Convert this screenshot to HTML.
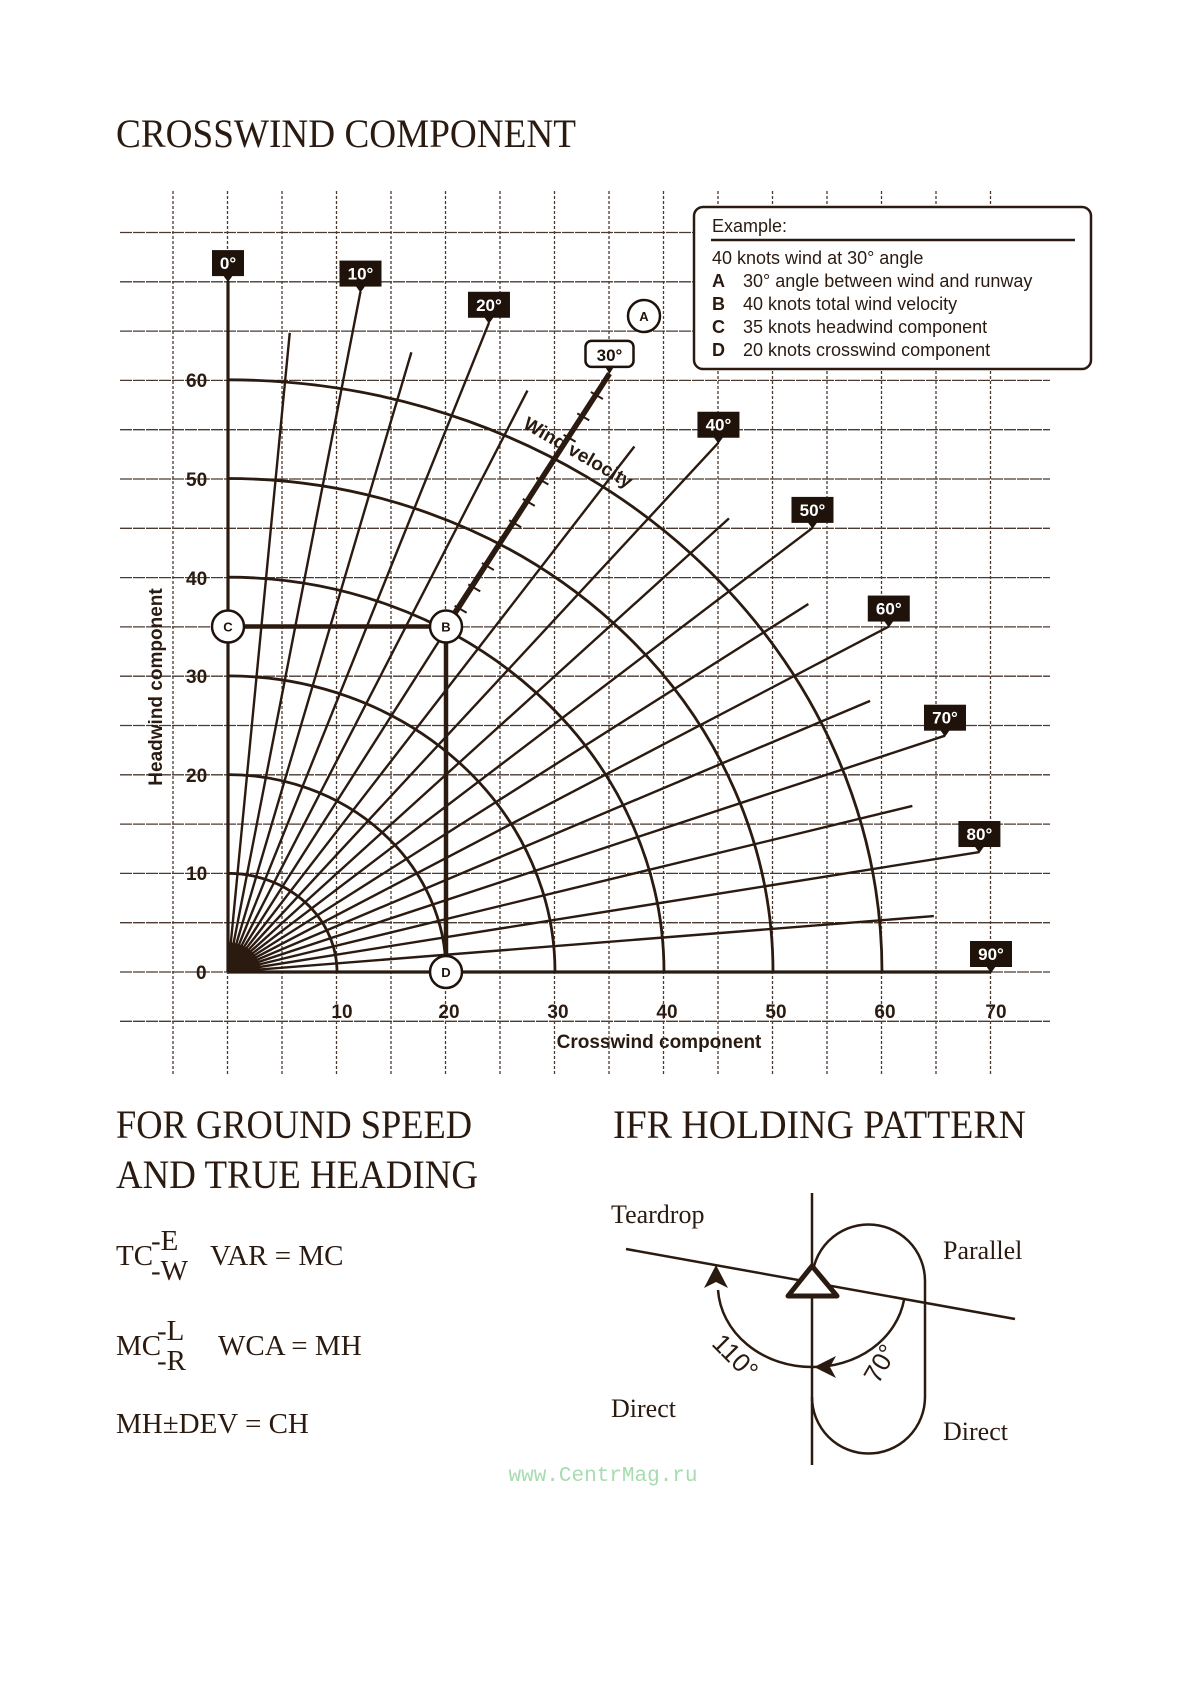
<!DOCTYPE html>
<html><head><meta charset="utf-8"><style>
html,body{margin:0;padding:0;background:#fff;}
svg{display:block;}
.serif{font-family:"Liberation Serif",serif;fill:#2a1a10;}
.sans{font-family:"Liberation Sans",sans-serif;fill:#2a1a10;}
</style></head><body>
<svg id="s" width="1200" height="1700" viewBox="0 0 1200 1700" xmlns="http://www.w3.org/2000/svg">
<rect width="1200" height="1700" fill="#fff"/>
<g id="grid" stroke="#4a3a30" stroke-width="1.3"></g>
<g id="chart" stroke="#2a1a10" fill="none"></g>
<g id="labels"></g>

<text class="serif" x="116" y="147" font-size="40" textLength="460" lengthAdjust="spacingAndGlyphs">CROSSWIND COMPONENT</text>

<rect x="694" y="207" width="397" height="162" rx="9" fill="#fff" stroke="#2a1a10" stroke-width="2.5"/>
<line x1="711" y1="240" x2="1075" y2="240" stroke="#2a1a10" stroke-width="2.5"/>
<g class="sans" font-size="18">
<text x="712" y="232">Example:</text>
<text x="712" y="264">40 knots wind at 30° angle</text>
<text x="712" y="287"><tspan font-weight="bold">A</tspan><tspan x="743">30° angle between wind and runway</tspan></text>
<text x="712" y="310"><tspan font-weight="bold">B</tspan><tspan x="743">40 knots total wind velocity</tspan></text>
<text x="712" y="333"><tspan font-weight="bold">C</tspan><tspan x="743">35 knots headwind component</tspan></text>
<text x="712" y="356"><tspan font-weight="bold">D</tspan><tspan x="743">20 knots crosswind component</tspan></text>
</g>

<g class="sans" font-size="19" font-weight="bold">
<text x="196" y="979">0</text>
<text x="186" y="880">10</text>
<text x="186" y="782">20</text>
<text x="186" y="683">30</text>
<text x="186" y="585">40</text>
<text x="186" y="486">50</text>
<text x="186" y="387">60</text>
<g text-anchor="middle">
<text x="342" y="1018">10</text>
<text x="449" y="1018">20</text>
<text x="558" y="1018">30</text>
<text x="667" y="1018">40</text>
<text x="776" y="1018">50</text>
<text x="885" y="1018">60</text>
<text x="996" y="1018">70</text>
</g>
<text x="659" y="1048" text-anchor="middle">Crosswind component</text>
<text transform="translate(162,687) rotate(-90)" text-anchor="middle">Headwind component</text>
<text transform="translate(575,458) rotate(30)" text-anchor="middle">Wind velocity</text>
</g>

<g class="serif">
<text x="116" y="1138" font-size="40" textLength="356" lengthAdjust="spacingAndGlyphs">FOR GROUND SPEED</text>
<text x="116" y="1188" font-size="40" textLength="362" lengthAdjust="spacingAndGlyphs">AND TRUE HEADING</text>
<text x="613" y="1138" font-size="40" textLength="413" lengthAdjust="spacingAndGlyphs">IFR HOLDING PATTERN</text>
<g font-size="29">
<text x="116" y="1265">TC</text><text x="151" y="1250">-E</text><text x="151" y="1280">-W</text>
<text x="210" y="1265">VAR = MC</text>
<text x="116" y="1355">MC</text><text x="157" y="1340">-L</text><text x="157" y="1370">-R</text>
<text x="218" y="1355">WCA = MH</text>
<text x="116" y="1433">MH±DEV = CH</text>
</g>
<g font-size="26">
<text x="611" y="1223">Teardrop</text>
<text x="943" y="1259">Parallel</text>
<text x="611" y="1417">Direct</text>
<text x="943" y="1440">Direct</text>
<text transform="translate(729,1363) rotate(45)" text-anchor="middle" font-family="Liberation Sans,sans-serif">110°</text>
<text transform="translate(888,1368) rotate(-60)" text-anchor="middle" font-family="Liberation Sans,sans-serif">70°</text>
</g>
</g>
<text x="603" y="1481" text-anchor="middle" font-family="Liberation Mono,monospace" font-size="21" fill="#a6dcb0">www.CentrMag.ru</text>

<g stroke="#2a1a10" fill="none" stroke-width="2.5">
<line x1="812" y1="1193" x2="812" y2="1465"/>
<path d="M812 1281 A56.5 56.5 0 0 1 925 1281 L925 1397 A56.5 56.5 0 0 1 812 1397"/>
<line x1="626" y1="1249" x2="1015" y2="1319"/>
<path d="M718 1290 A94 82 0 0 0 812 1367 A92 80 0 0 0 904 1300"/>
<path d="M812 1266 L837 1296 L788 1296 Z" fill="#fff" stroke-width="5" stroke-linejoin="round"/>
</g>
<path d="M716 1265 L704 1288 L716 1282 L728 1288 Z" fill="#2a1a10"/>
<path d="M814 1367 L836 1356 L830 1367 L836 1378 Z" fill="#2a1a10"/>
</svg>
<script>
(function(){
var NS="http://www.w3.org/2000/svg";
var ox=228,oy=972,ux=10.9,uy=9.87;
function X(k){return ox+ux*k;} function Y(k){return oy-uy*k;}
function el(p,t,a){var e=document.createElementNS(NS,t);for(var k in a)e.setAttribute(k,a[k]);p.appendChild(e);return e;}
var g=document.getElementById('grid');
for(var i=0;i<=15;i++){var x=173+54.5*i;el(g,'line',{x1:x,y1:191,x2:x,y2:1075,'stroke-dasharray':'3,2'});}
for(var j=-1;j<=15;j++){var y=972-49.3*j;el(g,'line',{x1:120,y1:y,x2:1050,y2:y,'stroke-dasharray':'12,1'});}
var c=document.getElementById('chart');
for(var r=10;r<=60;r+=10){el(c,'path',{d:'M'+X(0)+' '+Y(r)+' A'+(ux*r)+' '+(uy*r)+' 0 0 1 '+X(r)+' '+Y(0),'stroke-width':2.8});}
for(var a=0;a<=90;a+=5){var len=(a%10==0)?70:65;var rad=a*Math.PI/180;
 var w=(a==0||a==90)?3.2:2.4;
 el(c,'line',{x1:ox,y1:oy,x2:X(len*Math.sin(rad)),y2:Y(len*Math.cos(rad)),'stroke-width':w});}
el(c,'path',{d:'M'+ox+' '+oy+' L'+ox+' '+Y(3)+' A'+(ux*3)+' '+(uy*3)+' 0 0 1 '+X(3)+' '+oy+' Z',fill:'#2a1a10',stroke:'none'});
var bx=X(20),by=Y(35),dyy=Y(0);
el(c,'line',{x1:X(0),y1:by,x2:bx,y2:by,'stroke-width':4.5});
el(c,'line',{x1:bx,y1:by,x2:bx,y2:dyy,'stroke-width':4.5});
var s30=Math.sin(Math.PI/6),c30=Math.cos(Math.PI/6);
el(c,'line',{x1:bx,y1:by,x2:X(70*s30),y2:Y(70*c30),'stroke-width':5.5});
for(var t=42.5;t<=68;t+=2.5){var px=X(t*s30),py=Y(t*c30);
 el(c,'line',{x1:px-5,y1:py-3,x2:px+7,y2:py+4,'stroke-width':2});}
var L=document.getElementById('labels');
for(var a=0;a<=90;a+=10){if(a==30)continue;var rad=a*Math.PI/180;
 var px=X(70*Math.sin(rad)),py=Y(70*Math.cos(rad));var w=(a==0)?32:42,h=26;
 el(L,'rect',{x:px-w/2,y:py-h-5,width:w,height:h,fill:'#1e120a'});
 el(L,'path',{d:'M'+(px-5)+' '+(py-6)+' L'+(px+5)+' '+(py-6)+' L'+px+' '+(py+1)+' Z',fill:'#1e120a'});
 var tx=el(L,'text',{x:px,y:py-12,'text-anchor':'middle','font-family':'Liberation Sans,sans-serif','font-size':17,'font-weight':'bold',fill:'#fff'});tx.textContent=a+'°';}
var px=X(35),py=Y(60.6);
el(L,'rect',{x:px-24,y:py-33,width:48,height:26,rx:6,fill:'#fff',stroke:'#1e120a','stroke-width':2.5});
el(L,'path',{d:'M'+(px-5)+' '+(py-8)+' L'+(px+5)+' '+(py-8)+' L'+px+' '+(py)+' Z',fill:'#1e120a'});
var tx=el(L,'text',{x:px,y:py-13,'text-anchor':'middle','font-family':'Liberation Sans,sans-serif','font-size':17,'font-weight':'bold',fill:'#1e120a'});tx.textContent='30°';
function circ(x,y,t){el(L,'circle',{cx:x,cy:y,r:16,fill:'#fff',stroke:'#1e120a','stroke-width':2.5});
 var e=el(L,'text',{x:x,y:y+5,'text-anchor':'middle','font-family':'Liberation Sans,sans-serif','font-size':13,'font-weight':'bold',fill:'#1e120a'});e.textContent=t;}
circ(644,316,'A');circ(X(0),by,'C');circ(bx,by,'B');circ(bx,dyy,'D');
})();
</script>
</body></html>
